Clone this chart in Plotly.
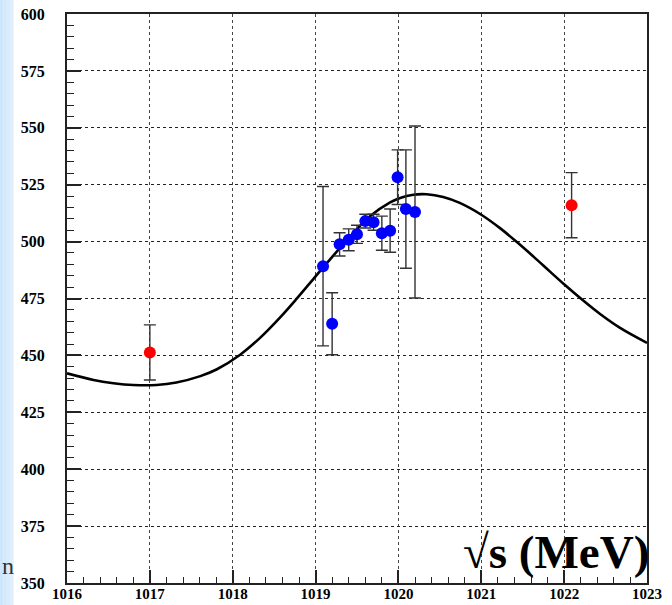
import plotly.graph_objects as go

# Scan points near the phi peak (blue)
scan_e = [1019.09, 1019.20, 1019.29, 1019.40, 1019.50, 1019.60,
          1019.70, 1019.80, 1019.90, 1019.99, 1020.09, 1020.20]
scan_v = [489.2, 463.9, 498.8, 500.8, 503.2, 509.0,
          508.5, 503.7, 504.8, 528.3, 514.3, 513.0]
scan_err = [35.0, 13.6, 5.1, 4.8, 4.0, 3.0,
            3.5, 7.5, 9.5, 12.0, 26.0, 37.8]

# Off-peak points (red)
off_e = [1017.00, 1022.09]
off_v = [451.3, 516.0]
off_err = [12.1, 14.3]

# Fitted curve, sampled along the energy axis
curve_e = [1016.00, 1016.32, 1016.56, 1016.80, 1017.08, 1017.32, 1017.61,
           1017.81, 1018.09, 1018.33, 1018.57, 1018.77, 1018.97, 1019.17,
           1019.42, 1019.66, 1019.90, 1020.02, 1020.18, 1020.34, 1020.54,
           1020.74, 1021.00, 1021.23, 1021.43, 1021.63, 1021.83, 1022.01,
           1022.23, 1022.43, 1022.67, 1023.00]
curve_v = [442.1, 439.2, 437.8, 437.0, 437.0, 438.1, 440.9,
           443.9, 450.3, 457.7, 466.6, 474.8, 483.4, 492.0,
           502.3, 511.2, 517.2, 519.2, 520.6, 520.8, 519.6,
           517.0, 511.8, 505.8, 499.8, 493.4, 486.8, 480.9,
           474.1, 468.3, 462.2, 455.5]

x_ticks = [1016, 1017, 1018, 1019, 1020, 1021, 1022, 1023]
y_ticks = [350, 375, 400, 425, 450, 475, 500, 525, 550, 575, 600]

W, H = 672, 605
ML, MR, MT, MB = 67, 25, 14, 22
PW, PH = W - ML - MR, H - MT - MB

serif = "Liberation Serif"

fig = go.Figure()

fig.add_trace(go.Scatter(
    x=curve_e, y=curve_v, mode="lines",
    line=dict(color="black", width=2.6, shape="spline", smoothing=1.0),
    hoverinfo="skip", showlegend=False,
))

fig.add_trace(go.Scatter(
    x=scan_e, y=scan_v, mode="markers",
    marker=dict(color="#0000ff", size=12, line=dict(width=0)),
    error_y=dict(type="data", array=scan_err, visible=True,
                 color="#333333", thickness=1.4, width=6),
    showlegend=False,
))

fig.add_trace(go.Scatter(
    x=off_e, y=off_v, mode="markers",
    marker=dict(color="#ff0000", size=12, line=dict(width=0)),
    error_y=dict(type="data", array=off_err, visible=True,
                 color="#333333", thickness=1.4, width=6),
    showlegend=False,
))

x_font = dict(family=serif, size=15, color="black", weight="bold")
y_font = dict(family=serif, size=16, color="black", weight="bold")

fig.update_xaxes(
    range=[1016, 1023], tickvals=x_ticks,
    ticktext=[str(v) for v in x_ticks], automargin=False,
    ticks="inside", ticklen=13, tickwidth=1.5, tickcolor="#222",
    showline=True, linecolor="#222", linewidth=2, mirror=True,
    showgrid=True, gridcolor="#444", griddash="dot", gridwidth=1,
    zeroline=False, tickfont=x_font, ticklabelstandoff=-4,
    minor=dict(ticks="inside", ticklen=6, tickwidth=1.3, tickcolor="#222",
               dtick=0.2, tick0=1016, showgrid=False),
)
fig.update_yaxes(
    range=[350, 600], tickvals=y_ticks,
    ticktext=[str(v) for v in y_ticks], automargin=False,
    ticks="inside", ticklen=14, tickwidth=1.5, tickcolor="#222",
    showline=True, linecolor="#222", linewidth=2, mirror=True,
    showgrid=True, gridcolor="#222", griddash="dot", gridwidth=1,
    zeroline=False, tickfont=y_font, ticklabelstandoff=17,
    minor=dict(ticks="inside", ticklen=7, tickwidth=1.3, tickcolor="#222",
               dtick=5, tick0=350, showgrid=False),
)

# light blue slide strip on the far left
strip_cols = ["#cde6fb", "#d2e9fc", "#d8ecfc", "#ddeffd"]
for i, c in enumerate(strip_cols):
    fig.add_shape(
        type="rect", xref="paper", yref="paper", layer="below",
        x0=(i * 3.4 - ML) / PW, x1=((i + 1) * 3.4 - ML) / PW,
        y0=-MB / PH, y1=1 + MT / PH,
        fillcolor=c, line=dict(width=0),
    )

fig.add_annotation(
    text="√s (MeV)", xref="paper", yref="paper",
    x=1.0, y=0.055, xanchor="right", yanchor="middle", xshift=4,
    showarrow=False,
    font=dict(family=serif, size=47, color="black", weight="bold"),
)

fig.add_annotation(
    text="n", xref="paper", yref="paper",
    x=(0 - ML) / PW, y=(H - MB - 566) / PH,
    xanchor="left", yanchor="middle", showarrow=False,
    font=dict(family=serif, size=24, color="#333"),
)

fig.update_layout(
    width=W, height=H,
    margin=dict(l=ML, r=MR, t=MT, b=MB),
    paper_bgcolor="white", plot_bgcolor="white",
)

fig.write_html("out.html")
